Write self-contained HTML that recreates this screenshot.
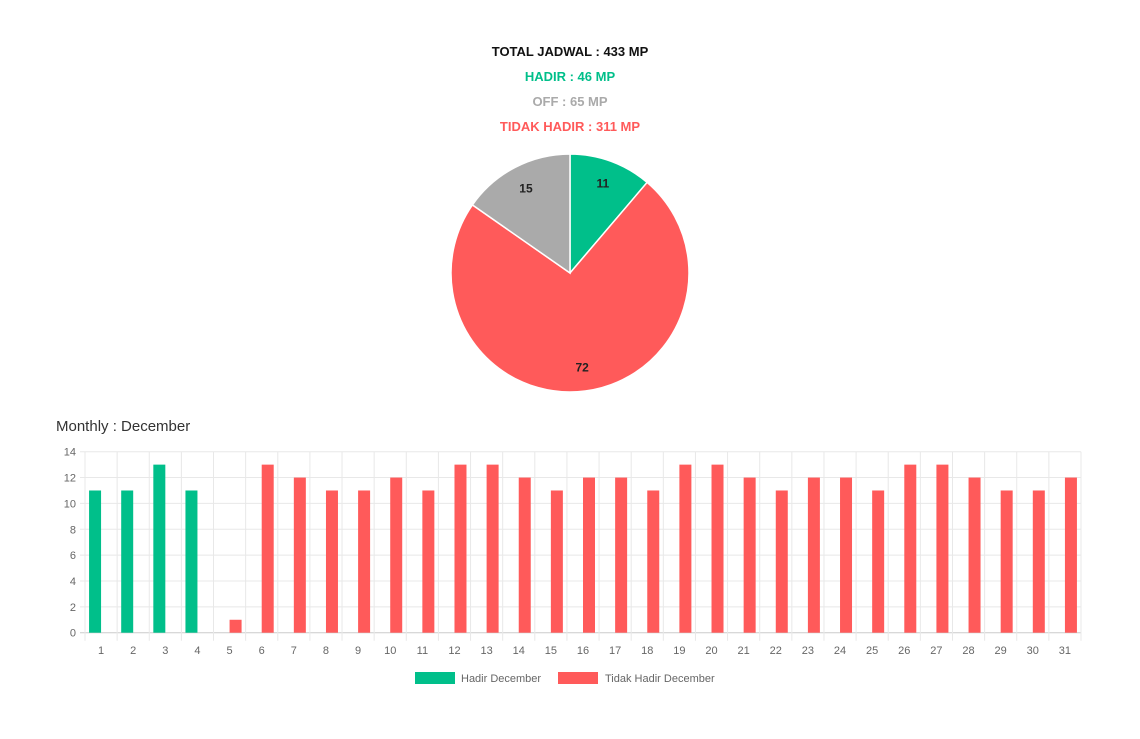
<!DOCTYPE html>
<html><head><meta charset="utf-8"><style>
body{margin:0;background:#fff;width:1140px;height:739px;overflow:hidden;font-family:"Liberation Sans",sans-serif}
.t{position:absolute;left:0;width:1140px;text-align:center;font-weight:bold;font-size:13px}
</style></head><body>
<div class="t" style="top:44px;color:#111">TOTAL JADWAL : 433 MP</div>
<div class="t" style="top:69px;color:#00bf8a">HADIR : 46 MP</div>
<div class="t" style="top:94px;color:#aaa">OFF : 65 MP</div>
<div class="t" style="top:119px;color:#ff5a5a">TIDAK HADIR : 311 MP</div>
<div style="position:absolute;left:56px;top:418px;font-size:15px;color:#333">Monthly : December</div>
<svg id="svg" width="1140" height="739" style="position:absolute;left:0;top:0"></svg>
<script>
const pieLabels=["Hadir","Tidak Hadir","Off"];
const pieValues=[11,72,15];
const pieColors=["#00bf8a","#ff5a5a","#aaaaaa"];
const days=[];for(let i=1;i<=31;i++)days.push(String(i));
const hadir=[11,11,13,11,0,0,0,0,0,0,0,0,0,0,0,0,0,0,0,0,0,0,0,0,0,0,0,0,0,0,0];
const tidak=[0,0,0,0,1,13,12,11,11,12,11,13,13,12,11,12,12,11,13,13,12,11,12,12,11,13,13,12,11,11,12];
const yTicks=[0,2,4,6,8,10,12,14];
const NS="http://www.w3.org/2000/svg",svg=document.getElementById('svg');
function mk(t,a,p){const e=document.createElementNS(NS,t);for(const k in a)e.setAttribute(k,a[k]);(p||svg).appendChild(e);return e;}
// pie
const cx=570,cy=273,R=119;const tot=pieValues.reduce((a,b)=>a+b,0);let ang=0;
pieValues.forEach((v,i)=>{const a0=ang,a1=ang+v/tot*2*Math.PI;ang=a1;
const x0=cx+R*Math.sin(a0),y0=cy-R*Math.cos(a0),x1=cx+R*Math.sin(a1),y1=cy-R*Math.cos(a1);
const p=mk('path',{d:`M${cx},${cy}L${x0},${y0}A${R},${R} 0 ${a1-a0>Math.PI?1:0} 1 ${x1},${y1}Z`,fill:pieColors[i],stroke:'#fff','stroke-width':1.5});


const am=(a0+a1)/2,lr=R*0.8;
const t=mk('text',{x:cx+lr*Math.sin(am),y:cy-lr*Math.cos(am)+4,'text-anchor':'middle','font-size':12,'font-weight':'bold',fill:'#222'});t.textContent=v;

});
// bar
const L=85,Rt=1081,T=451.7,B=632.7,cw=(Rt-L)/31,bw=12;
const y=v=>B-(v/14)*(B-T);
yTicks.forEach(v=>{mk('line',{x1:L-5,x2:Rt,y1:y(v),y2:y(v),stroke:v==0?'#ccc':'#e8e8e8'});
const t=mk('text',{x:L-9,y:y(v)+4,'text-anchor':'end','font-size':11,fill:'#666'});t.textContent=v;

});
for(let i=0;i<=31;i++)mk('line',{x1:L+i*cw,x2:L+i*cw,y1:T,y2:B+8,stroke:'#e8e8e8'});
days.forEach((d,i)=>{const c=L+(i+0.5)*cw;
if(hadir[i]>0){const r=mk('rect',{x:c-bw,y:y(hadir[i]),width:bw,height:B-y(hadir[i]),fill:'#00bf8a'});

}
if(tidak[i]>0){const r=mk('rect',{x:c,y:y(tidak[i]),width:bw,height:B-y(tidak[i]),fill:'#ff5a5a'});

}
const t=mk('text',{x:c,y:654,'text-anchor':'middle','font-size':11,fill:'#666'});t.textContent=d;

});
// legend
[[415,'#00bf8a','Hadir December',461],[558,'#ff5a5a','Tidak Hadir December',605]].forEach(l=>{
const r=mk('rect',{x:l[0],y:672,width:40,height:12,fill:l[1]});


const t=mk('text',{x:l[3],y:682,'font-size':11,fill:'#666'});t.textContent=l[2];

});
</script></body></html>
